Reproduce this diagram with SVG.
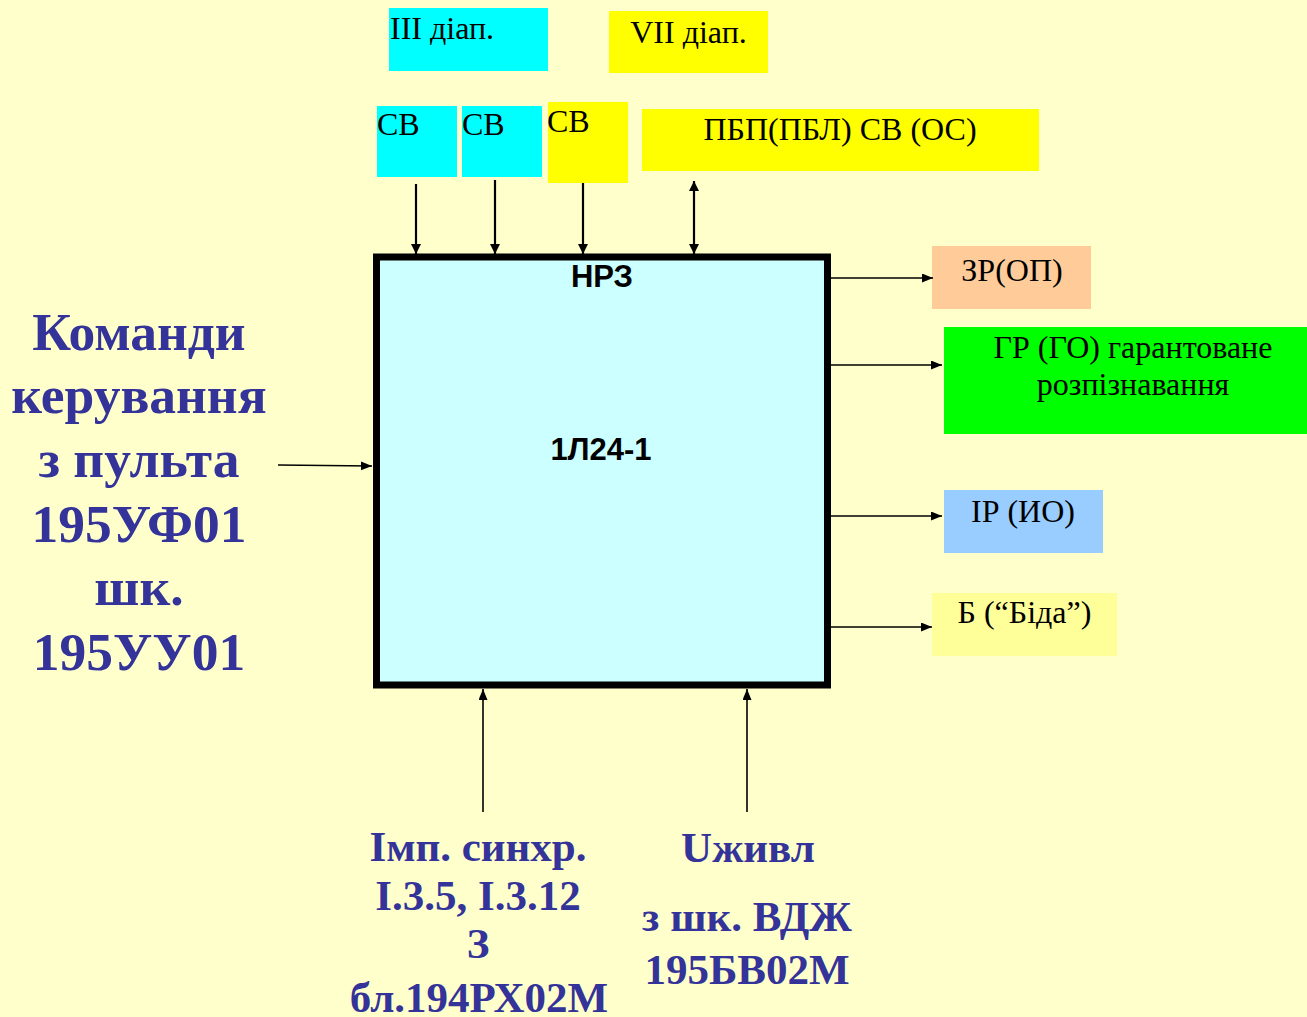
<svg xmlns="http://www.w3.org/2000/svg" width="1307" height="1017" viewBox="0 0 1307 1017">
<style>
.sm{font-family:"Liberation Serif","Times New Roman",serif;font-size:32px;fill:#000}
.big{font-family:"Liberation Serif","Times New Roman",serif;font-weight:bold;fill:#333399;text-anchor:middle}
.lbl{font-family:"Liberation Sans",Arial,sans-serif;font-weight:bold;font-size:31px;fill:#000;text-anchor:middle}
.mid{text-anchor:middle}
.ln{stroke:#000;stroke-width:1.6;fill:none}
.lnt{stroke:#000;stroke-width:2.2;fill:none}
</style>
<defs>
<marker id="ah" markerUnits="userSpaceOnUse" markerWidth="12" markerHeight="10" refX="11" refY="4.5" orient="auto-start-reverse">
<path d="M0,0 L11,4.5 L0,9 z" fill="#000"/>
</marker>
<marker id="ahb" markerUnits="userSpaceOnUse" markerWidth="12" markerHeight="12" refX="10" refY="5" orient="auto-start-reverse">
<path d="M0,0 L10,5 L0,10 z" fill="#000"/>
</marker>
</defs>
<rect x="0" y="0" width="1307" height="1017" fill="#FFFFCC"/>

<g id="n-iii">
<rect x="389" y="8" width="159" height="63" fill="#00FFFF"/>
<text class="sm" x="390" y="39">III діап.</text>
</g>
<g id="n-vii">
<rect x="609" y="11" width="159" height="62" fill="#FFFF00"/>
<text class="sm mid" x="688.5" y="43">VII діап.</text>
</g>
<g id="n-sv1">
<rect x="377" y="106" width="80" height="71" fill="#00FFFF"/>
<text class="sm" x="377" y="135">СВ</text>
</g>
<g id="n-sv2">
<rect x="462" y="106" width="80" height="71" fill="#00FFFF"/>
<text class="sm" x="462" y="135">СВ</text>
</g>
<g id="n-sv3">
<rect x="548" y="102" width="80" height="81" fill="#FFFF00"/>
<text class="sm" x="547" y="132">СВ</text>
</g>
<g id="n-pbp">
<rect x="642" y="109" width="397" height="62" fill="#FFFF00"/>
<text class="sm mid" x="840" y="140">ПБП(ПБЛ) СВ (ОС)</text>
</g>

<g id="n-main">
<rect x="376.5" y="257" width="451" height="428" fill="#CCFFFF" stroke="#000" stroke-width="7"/>
<text class="lbl" x="602" y="287">НРЗ</text>
<text class="lbl" x="601" y="460">1Л24-1</text>
</g>

<g id="n-zr">
<rect x="932" y="246" width="159" height="63" fill="#FFCC99"/>
<text class="sm mid" x="1012" y="281">ЗР(ОП)</text>
</g>
<g id="n-gr">
<rect x="944" y="327" width="378" height="107" fill="#00FF00"/>
<text class="sm mid" x="1133" y="358">ГР (ГО) гарантоване</text>
<text class="sm mid" x="1133" y="395">розпізнавання</text>
</g>
<g id="n-ir">
<rect x="944" y="490" width="159" height="63" fill="#99CCFF"/>
<text class="sm mid" x="1023" y="522">ІР (ИО)</text>
</g>
<g id="n-b">
<rect x="932" y="593" width="185" height="63" fill="#FFFF99"/>
<text class="sm mid" x="1024.5" y="623">Б (“Біда”)</text>
</g>

<g id="n-left">
<text class="big" font-size="53.5" x="139" y="350">Команди</text>
<text class="big" font-size="53.5" x="139" y="413">керування</text>
<text class="big" font-size="53.5" x="139" y="477">з пульта</text>
<text class="big" font-size="53.5" x="139" y="542">195УФ01</text>
<text class="big" font-size="53.5" x="139" y="605">шк.</text>
<text class="big" font-size="53.5" x="139" y="670">195УУ01</text>
</g>

<g id="n-sync">
<text class="big" font-size="43" x="478" y="861">Імп. синхр.</text>
<text class="big" font-size="43" x="478" y="910">І.3.5, І.3.12</text>
<text class="big" font-size="43" x="478" y="958">З</text>
<text class="big" font-size="43" x="479" y="1012">бл.194РХ02М</text>
</g>
<g id="n-power">
<text class="big" font-size="43" x="748" y="862">Uживл</text>
<text class="big" font-size="43" x="747" y="931">з шк. ВДЖ</text>
<text class="big" font-size="43" x="747" y="984">195БВ02М</text>
</g>

<g id="connectors">
<line class="lnt" x1="416" y1="184" x2="416" y2="254" marker-end="url(#ahb)"/>
<line class="lnt" x1="495" y1="180" x2="495" y2="254" marker-end="url(#ahb)"/>
<line class="lnt" x1="583" y1="183" x2="583" y2="254" marker-end="url(#ahb)"/>
<line class="lnt" x1="694" y1="181" x2="694" y2="254" marker-start="url(#ahb)" marker-end="url(#ahb)"/>
<line class="ln" x1="831" y1="278" x2="933" y2="278" marker-end="url(#ah)"/>
<line class="ln" x1="831" y1="365" x2="942" y2="365" marker-end="url(#ah)"/>
<line class="ln" x1="831" y1="516" x2="942" y2="516" marker-end="url(#ah)"/>
<line class="ln" x1="831" y1="627" x2="932" y2="627" marker-end="url(#ah)"/>
<line class="ln" x1="278" y1="465" x2="372" y2="466" marker-end="url(#ah)"/>
<line class="ln" x1="483" y1="812" x2="483" y2="689" marker-end="url(#ah)"/>
<line class="ln" x1="747" y1="812" x2="747" y2="689" marker-end="url(#ah)"/>
</g>
</svg>
